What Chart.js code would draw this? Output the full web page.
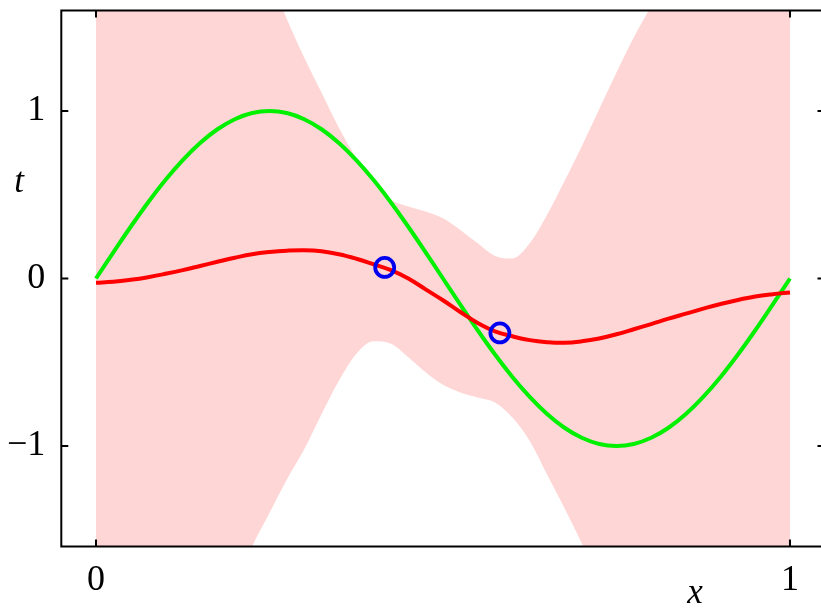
<!DOCTYPE html>
<html>
<head>
<meta charset="utf-8">
<script src="https://cdn.jsdelivr.net/npm/chart.js@4"></script>
<style>
html,body{margin:0;padding:0;background:#fff;overflow:hidden;width:821px;height:608px;}
canvas{display:block;}
</style>
</head>
<body>
<canvas id="c" width="821" height="608" style="width:821px;height:608px"></canvas>
<script>
// ---- data ----
const xs = [0,0.025,0.05,0.075,0.1,0.125,0.15,0.175,0.2,0.225,0.25,0.275,0.3,0.325,0.35,0.375,0.4,0.425,0.45,0.475,0.5,0.525,0.55,0.575,0.6,0.625,0.65,0.675,0.7,0.725,0.75,0.775,0.8,0.825,0.85,0.875,0.9,0.925,0.95,0.975,1];
const trueCurve = [0,0.156,0.309,0.454,0.588,0.707,0.809,0.891,0.951,0.988,1,0.988,0.951,0.891,0.809,0.707,0.588,0.454,0.309,0.156,0,-0.156,-0.309,-0.454,-0.588,-0.707,-0.809,-0.891,-0.951,-0.988,-1,-0.988,-0.951,-0.891,-0.809,-0.707,-0.588,-0.454,-0.309,-0.156,0];
const meanCurve = [-0.025,-0.02,-0.008,0.008,0.028,0.05,0.075,0.10,0.124,0.145,0.158,0.166,0.169,0.163,0.145,0.118,0.085,0.05,0.0,-0.065,-0.13,-0.2,-0.265,-0.315,-0.345,-0.368,-0.38,-0.384,-0.375,-0.358,-0.333,-0.303,-0.272,-0.24,-0.21,-0.18,-0.152,-0.128,-0.108,-0.094,-0.083];
const upperBand = [3.6,3.5,3.4,3.3,3.15,3.0,2.8,2.6,2.35,2.08,1.8,1.55,1.32,1.11,0.9,0.72,0.57,0.47,0.43,0.40,0.36,0.29,0.21,0.135,0.12,0.21,0.38,0.58,0.79,1.01,1.23,1.44,1.63,1.85,2.05,2.25,2.45,2.65,2.85,3.05,3.25];
const lowerBand = [-3.4,-3.3,-3.2,-3.05,-2.9,-2.7,-2.45,-2.15,-1.85,-1.6,-1.4,-1.2,-1.02,-0.81,-0.61,-0.45,-0.375,-0.39,-0.47,-0.56,-0.635,-0.68,-0.71,-0.74,-0.83,-0.97,-1.17,-1.37,-1.58,-1.8,-2.0,-2.2,-2.4,-2.55,-2.7,-2.85,-2.95,-3.05,-3.15,-3.2,-3.3];
const obsX = [0.416,0.582];
const obsT = [0.066,-0.325];
const xTicks = [0,1];
const yTicks = [-1,0,1];
const xLabel = 'x';
const yLabel = 't';

const pts = (xa, ya) => xa.map((x, i) => ({x: x, y: ya[i]}));
const FONT = "'Liberation Serif','DejaVu Serif',serif";

const framePlugin = {
  id: 'frame',
  afterDraw(chart) {
    const ctx = chart.ctx, a = chart.chartArea;
    const sx = chart.scales.x, sy = chart.scales.y;
    const rightX = a.right + 3.5; // right axis lies just outside the picture
    ctx.save();
    ctx.strokeStyle = '#000';
    ctx.lineWidth = 2;
    ctx.strokeRect(a.left, a.top, rightX - a.left, a.bottom - a.top);
    const tl = 7;
    ctx.beginPath();
    yTicks.forEach(v => {
      const p = sy.getPixelForValue(v);
      ctx.moveTo(a.left, p); ctx.lineTo(a.left + tl, p);
      ctx.moveTo(rightX, p); ctx.lineTo(rightX - tl, p);
    });
    xTicks.forEach(v => {
      const p = sx.getPixelForValue(v);
      ctx.moveTo(p, a.bottom); ctx.lineTo(p, a.bottom - tl);
      ctx.moveTo(p, a.top); ctx.lineTo(p, a.top + tl);
    });
    ctx.stroke();
    ctx.fillStyle = '#000';
    ctx.font = "italic 35px " + FONT;
    ctx.textAlign = 'center';
    ctx.textBaseline = 'alphabetic';
    ctx.fillText(yLabel, 19, 192);
    ctx.fillText(xLabel, 695, 603);
    ctx.restore();
  }
};

new Chart(document.getElementById('c'), {
  type: 'line',
  data: {
    datasets: [
      {
        data: pts(obsX, obsT), showLine: false, order: 0,
        pointRadius: 9.5, pointHoverRadius: 9.5, pointBorderWidth: 3.8,
        pointBorderColor: 'rgb(0,0,240)', pointBackgroundColor: 'rgba(0,0,0,0)'
      },
      {
        data: pts(xs, meanCurve), order: 1, borderColor: 'rgb(255,0,0)', borderWidth: 4,
        pointRadius: 0, tension: 0.4, fill: false
      },
      {
        data: pts(xs, trueCurve), order: 2, borderColor: 'rgb(0,240,0)', borderWidth: 4,
        pointRadius: 0, tension: 0.4, fill: false
      },
      {
        data: pts(xs, upperBand), order: 3, borderColor: 'rgba(0,0,0,0)', borderWidth: 0,
        pointRadius: 0, cubicInterpolationMode: 'monotone',
        fill: '+1', backgroundColor: 'rgb(255,214,214)'
      },
      {
        data: pts(xs, lowerBand), order: 4, borderColor: 'rgba(0,0,0,0)', borderWidth: 0,
        pointRadius: 0, cubicInterpolationMode: 'monotone', fill: false
      }
    ]
  },
  options: {
    responsive: false,
    animation: false,
    devicePixelRatio: 1,
    layout: { autoPadding: false, padding: { top: 10.5, right: 0, left: 0, bottom: 0 } },
    plugins: { legend: { display: false }, tooltip: { enabled: false } },
    events: [],
    scales: {
      x: {
        type: 'linear', min: -0.05, max: 1.0447,
        afterBuildTicks: s => { s.ticks = xTicks.map(v => ({value: v})); },
        afterFit: s => { s.height = 61.5; s.paddingLeft = 0; s.paddingRight = 0; },
        grid: { display: false, drawTicks: false },
        border: { display: false },
        ticks: { color: '#000', font: { family: FONT, size: 36 }, padding: 12, maxRotation: 0,
                 callback: v => String(v) }
      },
      y: {
        type: 'linear', min: -1.6, max: 1.6,
        afterBuildTicks: s => { s.ticks = yTicks.map(v => ({value: v})); },
        afterFit: s => { s.width = 61.3; s.paddingTop = 0; s.paddingBottom = 0; },
        grid: { display: false, drawTicks: false },
        border: { display: false },
        ticks: { color: '#000', font: { family: FONT, size: 36 }, padding: 16,
                 callback: v => (v < 0 ? '\u2212' + Math.abs(v) : String(v)) }
      }
    }
  },
  plugins: [framePlugin]
});
</script>
</body>
</html>
